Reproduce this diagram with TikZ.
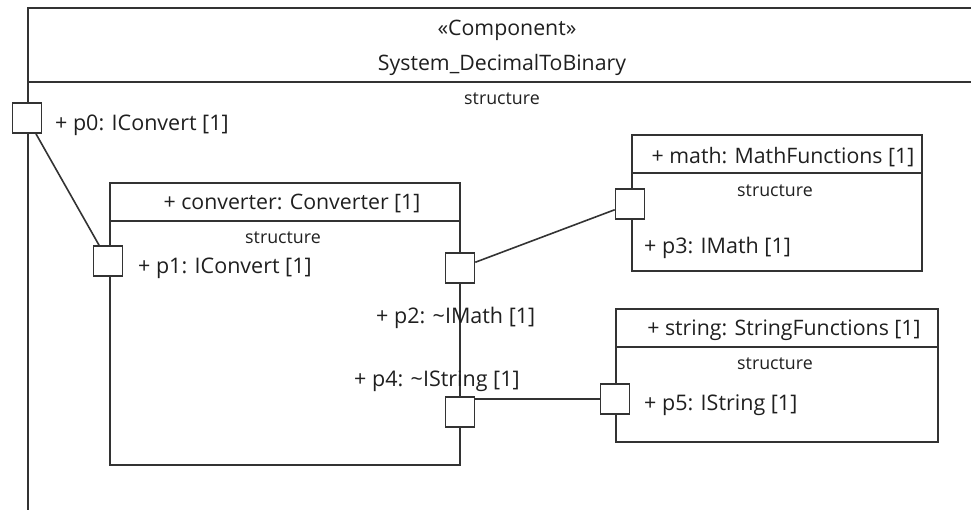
\documentclass[tikz,border=0pt]{standalone}
\usepackage{fontspec}
\setmainfont{Open Sans}
\begin{document}
\begin{tikzpicture}[x=1pt,y=-1pt,
  every node/.style={text=black!88},
  ln/.style={draw=black!80, line width=1.6pt},
  part/.style={ln, rectangle, inner sep=0pt, anchor=north west},
  port/.style={ln, fill=white, rectangle, inner sep=0pt, minimum width=29pt, minimum height=30pt},
  lbl/.style={anchor=west, inner sep=0pt, font=\fontsize{21.5}{24}\selectfont},
  ttl/.style={anchor=center, inner sep=0pt, font=\fontsize{21.3}{24}\selectfont},
  cmp/.style={anchor=center, inner sep=0pt, font=\fontsize{17.8}{20}\selectfont}
]
\useasboundingbox (0,0) rectangle (971,509);
\clip (0,0) rectangle (971,509);

% enclosing component frame (runs past the right and bottom edges)
\node[part, minimum width=1000pt, minimum height=560pt] (sys) at (27,7) {};
\coordinate (sysH) at (27,82);
\draw[ln] (sysH) -- (sysH -| sys.east);
\node[ttl] (sysst) at (507,30) {«Component»};
\node[ttl] (sysnm) at (502,65) {System\_DecimalToBinary};
\node[cmp] (sysc) at (502,99) {structure};

% converter part
\node[part, minimum width=350pt, minimum height=282pt] (conv) at (109,182) {};
\coordinate (convH) at (109,221);
\draw[ln] (convH) -- (convH -| conv.east);
\node[ttl] (convt) at (292,203) {+ converter: Converter [1]};
\node[cmp] (convc) at (283,238) {structure};

% math part
\node[part, minimum width=290pt, minimum height=136pt] (math) at (631,134) {};
\coordinate (mathH) at (631,173);
\draw[ln] (mathH) -- (mathH -| math.east);
\node[ttl] (matht) at (783,157) {+ math: MathFunctions [1]};
\node[cmp] (mathc) at (775,191) {structure};

% string part
\node[part, minimum width=322pt, minimum height=133pt] (str) at (615,308) {};
\coordinate (strH) at (615,347);
\draw[ln] (strH) -- (strH -| str.east);
\node[ttl] (strt) at (784,330) {+ string: StringFunctions [1]};
\node[cmp] (strc) at (775,364) {structure};

% ports
\node[port] (p0) at (27,118) {};
\node[port] (p1) at (108,261) {};
\node[port] (p2) at (460,268) {};
\node[port] (p4) at (460,412) {};
\node[port] (p3) at (630,204) {};
\node[port] (p5) at (615,399) {};

% port labels
\node[lbl] (p0l) at (55,125) {+ p0: IConvert [1]};
\node[lbl] (p1l) at (138,268) {+ p1: IConvert [1]};
\node[lbl] (p2l) at (376,318) {+ p2: \textasciitilde IMath [1]};
\node[lbl] (p4l) at (354,381) {+ p4: \textasciitilde IString [1]};
\node[lbl] (p3l) at (644,248) {+ p3: IMath [1]};
\node[lbl] (p5l) at (644,405) {+ p5: IString [1]};

% connectors
\draw[ln] (p0) -- (p1);
\draw[ln] (p2) -- (p3);
\draw[ln] (p5.west) -- (p5.west -| p4.east);
\end{tikzpicture}
\end{document}
